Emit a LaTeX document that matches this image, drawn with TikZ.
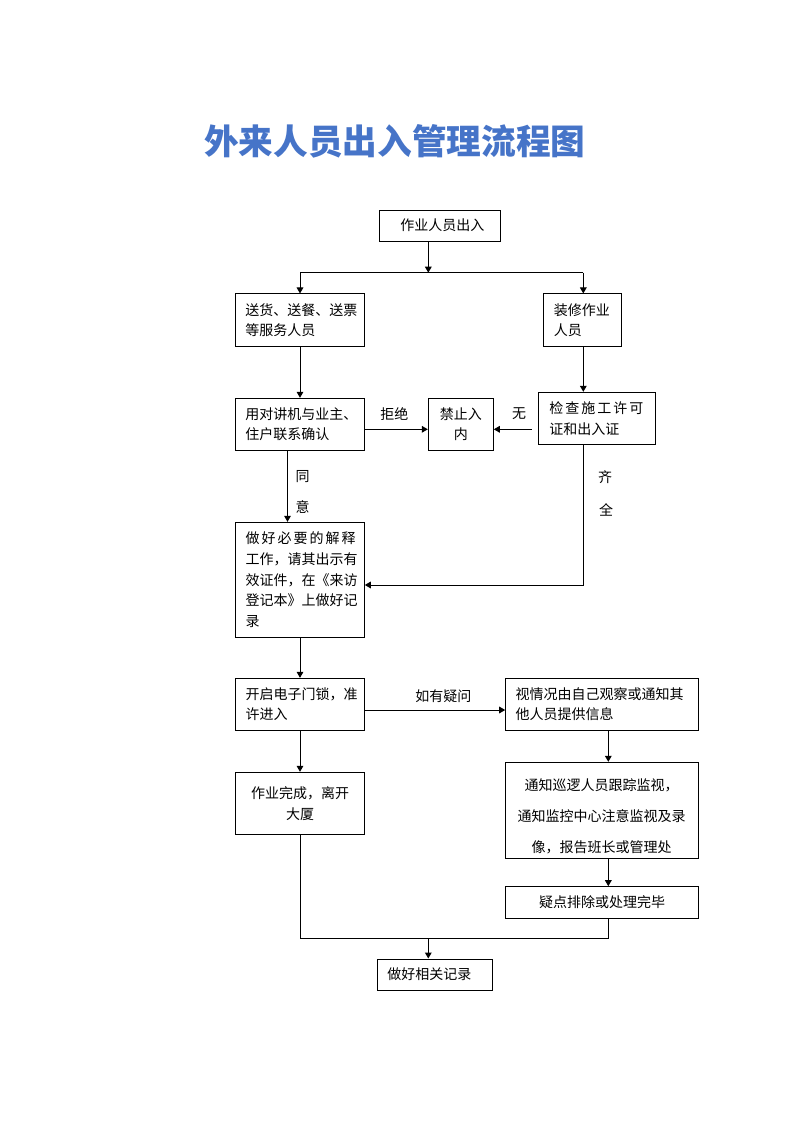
\documentclass[tikz,border=0pt]{standalone}
\usepackage{fontspec}
\setmainfont{Noto Sans CJK SC}
\newfontfamily\cjk{Noto Sans CJK SC}
\usetikzlibrary{arrows.meta,calc}
\definecolor{titleblue}{RGB}{70,116,200}
\tikzset{
  box/.style={draw=black,line width=0.75pt,rectangle,inner ysep=0pt,font=\cjk\fontsize{10.5pt}{15.5pt}\selectfont},
  lbox/.style={box,align=left,inner xsep=7.5pt},
  cbox/.style={box,align=center,inner xsep=0pt},
  conn/.style={line width=0.75pt},
  arr/.style={conn,-{Triangle[length=4.5pt,width=5pt]}},
  lab/.style={font=\cjk\fontsize{10.5pt}{15.5pt}\selectfont,inner sep=0pt}
}
\begin{document}
\begin{tikzpicture}[x=0.75pt,y=-0.75pt]
\useasboundingbox (0,0) rectangle (794,1123);
\node[font=\cjk\bfseries\fontsize{26pt}{30pt}\selectfont,text=titleblue,anchor=west,inner sep=0pt] (title) at (204,141) {外来人员出入管理流程图};

\node[cbox,minimum width=91.05pt,minimum height=23.5pt,text width=91.05pt] (b1) at (440,225.7) {\hspace*{3.5pt}作业人员出入};
\node[lbox,minimum height=39.5pt,text width=82pt] (b2) at (300,320.3) {送货、送餐、送票\\等服务人员};
\node[lbox,minimum height=39.5pt,text width=43.3pt] (b3) at (582.85,320.3) {装修作业\\人员};
\node[lbox,minimum height=39pt,text width=82pt] (b4) at (300,424.3) {用对讲机与业主、\\住户联系确认};
\node[cbox,minimum height=39pt,text width=48.75pt] (b5) at (460.8,424.3) {禁止入\\内};
\node[lbox,minimum height=39pt,text width=71.8pt,inner xsep=8pt] (b6) at (597.3,418.3) {\makebox[70.5pt][s]{检\hfill 查\hfill 施\hfill 工\hfill 许\hfill 可}\\证和出入证};
\node[lbox,minimum height=86.25pt,text width=81.45pt] (b7) at (300,579.8) {\makebox[82.5pt][s]{做\hfill 好\hfill 必\hfill 要\hfill 的\hfill 解\hfill 释}\\工作，请其出示有\\效证件，在《来访\\登记本》上做好记\\录};
\node[lbox,minimum height=38.8pt,text width=81.45pt] (b8) at (300,704.2) {开启电子门锁，准\\许进入};
\node[lbox,minimum height=38.8pt,text width=129.45pt] (b9) at (602,704.2) {视情况由自己观察或通知其\\他人员提供信息};
\node[cbox,minimum height=46.5pt,text width=96.45pt] (b10) at (300,803.3) {作业完成，离开\\大厦};
\node[box,minimum width=144.75pt,minimum height=72pt] (b11) at (602.2,810.3) {};
\node[lab,align=center,font=\cjk\fontsize{10.5pt}{23.25pt}\selectfont] (t11) at (601.5,816) {通知巡逻人员跟踪监视，\\通知监控中心注意监视及录\\像，报告班长或管理处};
\node[cbox,minimum height=23.7pt,text width=144.75pt] (b12) at (602.2,902.5) {疑点排除或处理完毕};
\node[lbox,minimum height=23.25pt,text width=72pt,inner xsep=7pt] (b13) at (435.3,974.5) {做好相关记录};

% connectors
\coordinate (j1) at (428.3,272.7);
\coordinate (jl) at (300,272.7);
\coordinate (jr) at (583.3,272.7);
\draw[arr] (b1.south -| j1) -- (j1);
\draw[conn] (jl) -- (jr);
\draw[arr] (jl) -- (b2.north);
\draw[arr] (jr) -- (jr |- b3.north);
\draw[arr] (b2.south) -- (b4.north);
\draw[arr] (b3.south -| jr) -- (jr |- b6.north);
\draw[arr] ($(b4.east)+(0,5)$) -- ($(b5.west)+(0,5)$);
\coordinate (c6) at (531.7,429.3);
\draw[arr] (c6) -- (c6 -| b5.east);
\node[lab] (l1) at (394.3,414) {拒绝};
\node[lab] (l2) at (519,414) {无};
\coordinate (c4) at (287.5,450);
\draw[arr] (b4.south -| c4) -- (b7.north -| c4);
\node[lab] (l3) at (302.7,477) {同};
\node[lab] (l4) at (302.7,507.5) {意};
\coordinate (c7) at (583.3,585);
\draw[arr] (b6.south -| c7) -- (c7) -- (c7 -| b7.east);
\node[lab] (l5) at (605,477) {齐};
\node[lab] (l6) at (606,509.5) {全};
\draw[arr] (b7.south) -- (b8.north);
\draw[arr] ($(b8.east)+(0,5.8)$) -- ($(b9.west)+(0,5.8)$);
\node[lab] (l7) at (443.3,695.7) {如有疑问};
\draw[arr] (b8.south) -- (b10.north);
\coordinate (c9) at (608.3,740);
\draw[arr] (b9.south -| c9) -- (b11.north -| c9);
\draw[arr] (b11.south -| c9) -- (b12.north -| c9);
\coordinate (bl) at (300.3,938.3);
\coordinate (br) at (608.3,938.3);
\coordinate (bm) at (428.3,938.3);
\draw[conn] (b10.south -| bl) -- (bl) -- (br) -- (b12.south -| br);
\draw[arr] (bm) -- (bm |- b13.north);
\end{tikzpicture}
\end{document}
